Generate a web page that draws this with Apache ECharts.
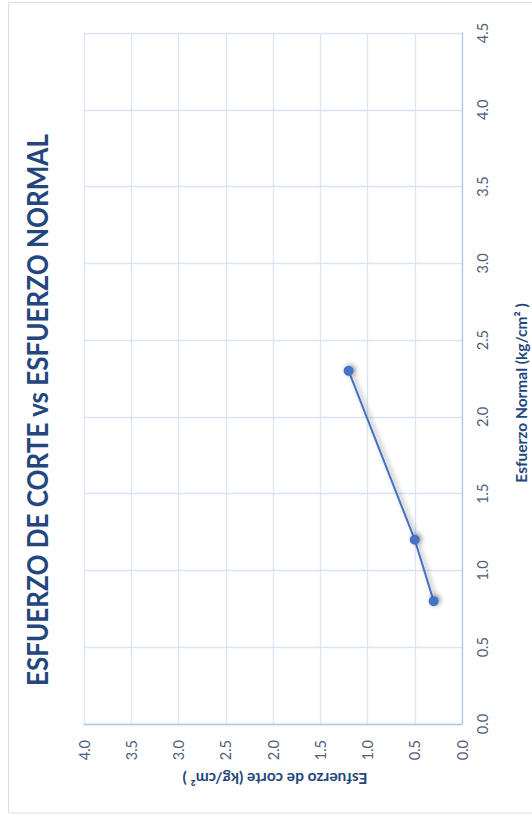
<!DOCTYPE html>
<html>
<head>
<meta charset="utf-8">
<script src="https://cdn.jsdelivr.net/npm/echarts@6/dist/echarts.min.js"></script>
<style>
  html, body { margin: 0; padding: 0; background: #ffffff; overflow: hidden; }
  #chart { width: 532px; height: 815px; }
</style>
</head>
<body>
<div id="chart"></div>
<script>
// Ensayo de corte directo: esfuerzo normal aplicado y esfuerzo de corte en la falla
const esfuerzoNormal = [0.8, 1.2, 2.3];   // kg/cm²
const esfuerzoCorte  = [0.3, 0.5, 1.2];   // kg/cm²

// Textos
const tituloGrafico = 'ESFUERZO DE CORTE vs ESFUERZO NORMAL';
const tituloNormal  = 'Esfuerzo Normal (kg/cm² )';
const tituloCorte   = 'Esfuerzo de corte (kg/cm² )';

// Escalas de los ejes
const rangoNormal = [0, 4.5];
const rangoCorte  = [0, 4.0];
const paso = 0.5;

// Pares [corte, normal]: la hoja está girada un cuarto de vuelta,
// el eje normal queda vertical a la derecha y el de corte abajo, invertido.
const puntos = esfuerzoNormal.map((n, i) => [esfuerzoCorte[i], n]);

const azul = '#4472c4';
const colorTexto = '#4d5c7a';
const colorTitulo = '#23467c';
const fuente = 'Lato, "Open Sans", sans-serif';
const sombra = { shadowColor: 'rgba(0,0,0,0.4)', shadowBlur: 5, shadowOffsetX: 2, shadowOffsetY: -1 };

const chart = echarts.init(document.getElementById('chart'), null, { renderer: 'svg' });

chart.setOption({
  backgroundColor: '#ffffff',
  animation: false,
  grid: { left: 84, right: 70, top: 33, bottom: 91, containLabel: false, outerBoundsMode: 'none' },
  xAxis: {
    type: 'value',
    position: 'bottom',
    inverse: true,
    min: rangoCorte[0],
    max: rangoCorte[1],
    interval: paso,
    axisLine: { show: true, lineStyle: { color: '#b3c7e6', width: 1.3 } },
    axisTick: { show: false },
    splitLine: { show: true, lineStyle: { color: '#d9e4f4', width: 1.3 } },
    axisLabel: {
      rotate: 90,
      margin: 16,
      fontFamily: fuente,
      fontSize: 14.5,
      color: colorTexto,
      formatter: v => v.toFixed(1)
    }
  },
  yAxis: {
    type: 'value',
    position: 'right',
    min: rangoNormal[0],
    max: rangoNormal[1],
    interval: paso,
    axisLine: { show: true, lineStyle: { color: '#b3c7e6', width: 1.3 } },
    axisTick: { show: false },
    splitLine: { show: true, lineStyle: { color: '#d9e4f4', width: 1.3 } },
    axisLabel: {
      rotate: 90,
      margin: 13,
      fontFamily: fuente,
      fontSize: 14.5,
      color: colorTexto,
      formatter: v => v.toFixed(1)
    }
  },
  series: [{
    type: 'line',
    data: puntos,
    symbol: 'circle',
    symbolSize: 10,
    lineStyle: Object.assign({ color: azul, width: 2 }, sombra),
    itemStyle: Object.assign({ color: azul }, sombra),
    z: 3
  }],
  graphic: [
    {
      type: 'rect',
      shape: { x: 8.5, y: 2.5, width: 525, height: 810.5 },
      style: { fill: 'none', stroke: '#d6dfec', lineWidth: 1 },
      silent: true
    },
    {
      type: 'text',
      x: 37, y: 410,
      rotation: Math.PI / 2,
      scaleX: 0.93,
      style: {
        text: tituloGrafico,
        font: 'bold 28px ' + fuente,
        fill: colorTitulo,
        align: 'center',
        verticalAlign: 'middle'
      }
    },
    {
      type: 'text',
      x: 521, y: 393,
      rotation: Math.PI / 2,
      style: {
        text: tituloNormal,
        font: 'bold 15.5px ' + fuente,
        fill: colorTitulo,
        align: 'center',
        verticalAlign: 'middle'
      }
    },
    {
      type: 'text',
      x: 275, y: 779,
      rotation: Math.PI,
      style: {
        text: tituloCorte,
        font: 'bold 15.5px ' + fuente,
        fill: colorTitulo,
        align: 'center',
        verticalAlign: 'middle'
      }
    }
  ]
});
</script>
</body>
</html>
